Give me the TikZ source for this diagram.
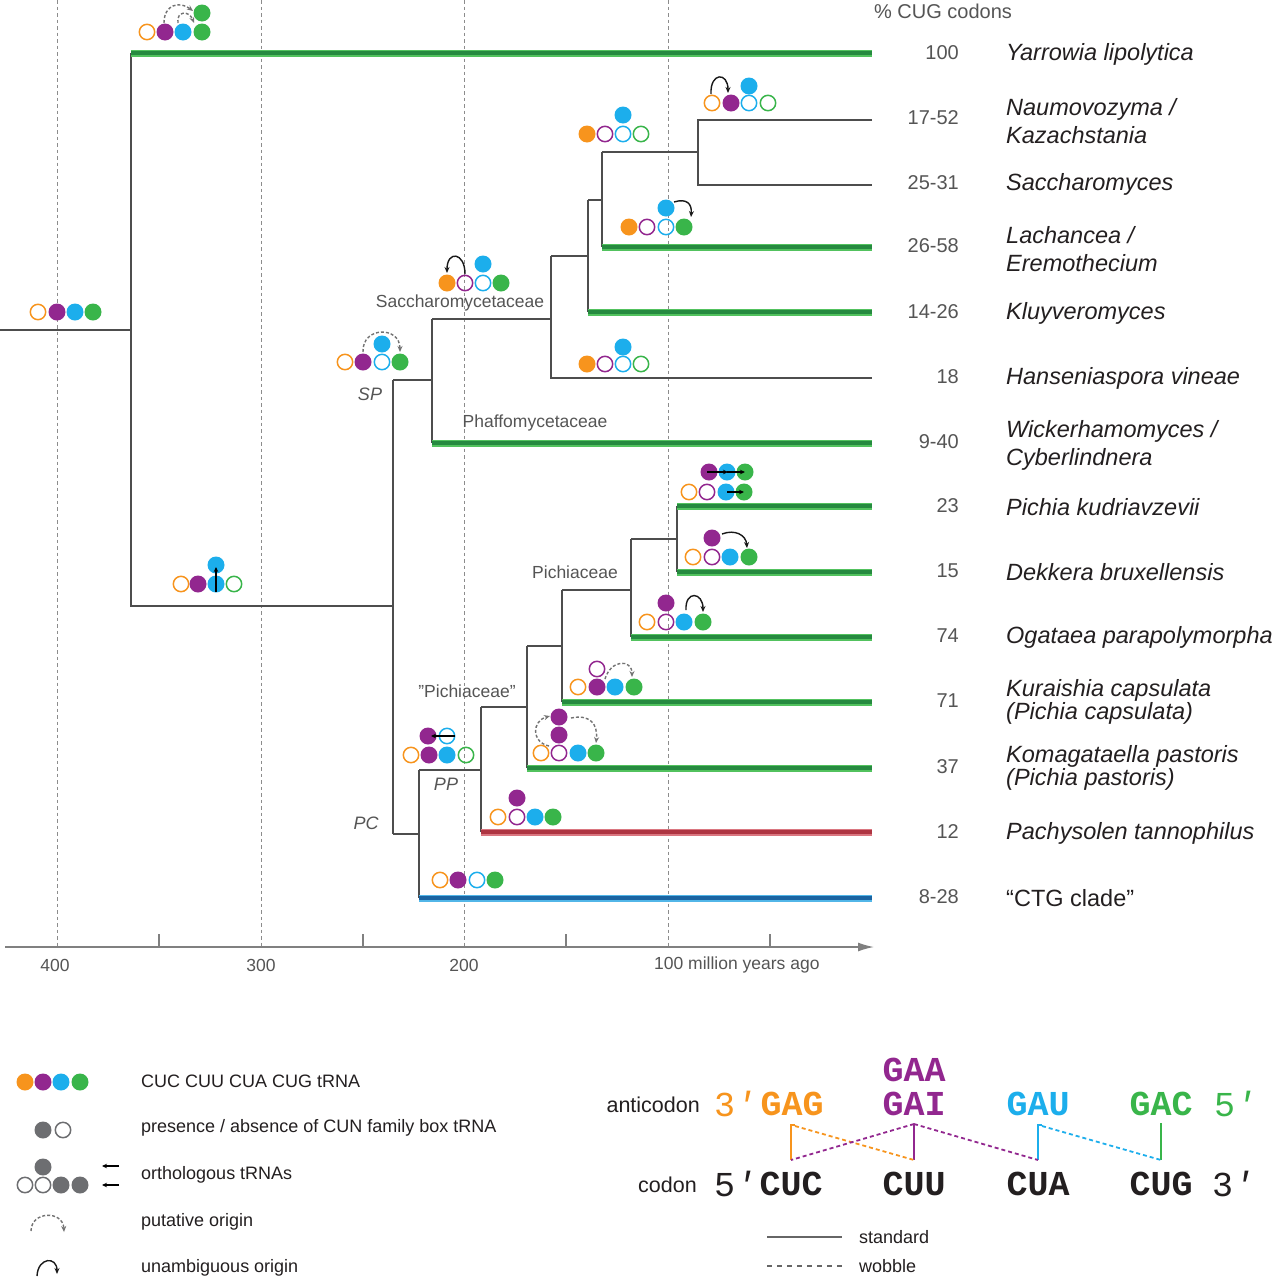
\documentclass[tikz,border=0pt]{standalone}
\usepackage{fontspec}
\setmainfont{Liberation Sans}
\newfontfamily\monofont{Liberation Mono}
\usetikzlibrary{arrows.meta}
\definecolor{cOr}{HTML}{F7941D}
\definecolor{cPu}{HTML}{92278F}
\definecolor{cBl}{HTML}{1CAEEC}
\definecolor{cGr}{HTML}{39B54A}
\definecolor{cGy}{HTML}{6D6E71}
\definecolor{treec}{HTML}{4D4D4D}
\definecolor{txtgray}{HTML}{555555}
\definecolor{spc}{HTML}{231F20}
\definecolor{grOut}{HTML}{52C25E}
\definecolor{grIn}{HTML}{268A40}
\definecolor{rdOut}{HTML}{DA7680}
\definecolor{rdIn}{HTML}{AE3542}
\definecolor{blOut}{HTML}{52B6E8}
\definecolor{blIn}{HTML}{1A64A2}
\newcommand\fc[3]{\fill[#3] (#1,#2) circle[radius=8.5pt];}
\newcommand\oc[3]{\draw[#3,line width=1.5pt] (#1,#2) circle[radius=7.7pt];}
\newcommand\brn[4]{\draw[line width=7pt,#1] (#3,#4) -- (872,#4);\draw[line width=3.4pt,#2] (#3,#4) -- (872,#4);}
\newcommand\primemark{{\itshape\symbol{"2032}}}
\tikzset{
  tree/.style={draw=treec, line width=1.3pt},
  gridln/.style={draw=black!45, line width=0.8pt, dash pattern=on 3.5pt off 3pt},
  put/.style={draw=black!55, line width=1.4pt, dash pattern=on 3pt off 2pt, -{Stealth[length=6pt,width=5pt]}},
  una/.style={draw=black!90, line width=1.4pt, -{Stealth[length=6pt,width=5pt]}},
  orth/.style={draw=black, line width=1.3pt, -{Stealth[length=5pt,width=4.5pt]}},
  species/.style={anchor=west, font=\fontsize{23.5}{28}\selectfont\itshape, text=spc, align=left, inner sep=0pt},
  species2/.style={species, font=\fontsize{23.5}{22.5}\selectfont\itshape},
  pct/.style={anchor=east, font=\fontsize{20}{24}\selectfont, text=txtgray, inner sep=0pt},
  clade/.style={font=\fontsize{17.5}{21}\selectfont, text=txtgray, inner sep=0pt},
  cladeit/.style={font=\fontsize{18}{21}\selectfont\itshape, text=txtgray, inner sep=0pt},
  axlab/.style={font=\fontsize{17.5}{21}\selectfont, text=txtgray, inner sep=0pt},
  legtxt/.style={anchor=west, font=\fontsize{18}{21}\selectfont, text=spc, inner sep=0pt},
  codon/.style={font=\fontsize{35}{37}\selectfont\monofont\bfseries, inner sep=0pt},
  prime/.style={anchor=west, font=\fontsize{35}{37}\selectfont\monofont, inner sep=0pt},
  sidelab/.style={font=\fontsize{21.5}{24}\selectfont, text=spc, anchor=east, inner sep=0pt},
  pair/.style={line width=1.8pt},
  wob/.style={line width=1.8pt, dash pattern=on 4pt off 3pt}
}
\begin{document}
\begin{tikzpicture}[x=1pt,y=-1pt]
\useasboundingbox[fill=white] (0,0) rectangle (1277,1280);
% grid lines
\foreach \x in {57,261,464,668} \draw[gridln] (\x,0) -- (\x,947);
% axis
\draw[draw=black!50, line width=1.5pt, -{Latex[length=16pt,width=9pt]}] (5,947) -- (874,947);
\foreach \x in {159,363,566,770} \draw[draw=black!50, line width=1.2pt] (\x,934) -- (\x,947);
\node[axlab] (a400) at (55,965) {400};
\node[axlab] (a300) at (261,965) {300};
\node[axlab] (a200) at (464,965) {200};
\node[axlab, anchor=west] (a100) at (654,965) {100 million years ago};
% tree
\draw[tree] (0,330) -- (131,330);
\draw[tree] (131,53) -- (131,606) -- (393,606);
\draw[tree] (393,380) -- (393,834);
\draw[tree] (393,380) -- (432,380);
\draw[tree] (432,319) -- (432,443);
\draw[tree] (432,319) -- (551,319);
\draw[tree] (551,256) -- (551,378) -- (872,378);
\draw[tree] (551,256) -- (588,256);
\draw[tree] (588,200) -- (588,312);
\draw[tree] (588,200) -- (602,200);
\draw[tree] (602,152) -- (602,247);
\draw[tree] (602,152) -- (698,152);
\draw[tree] (872,120) -- (698,120) -- (698,185) -- (872,185);
\draw[tree] (393,834) -- (419,834);
\draw[tree] (419,770) -- (419,898);
\draw[tree] (419,770) -- (481,770);
\draw[tree] (481,707) -- (481,832);
\draw[tree] (481,707) -- (527,707);
\draw[tree] (527,646) -- (527,768);
\draw[tree] (527,646) -- (562,646);
\draw[tree] (562,590) -- (562,702);
\draw[tree] (562,590) -- (631,590);
\draw[tree] (631,539) -- (631,637);
\draw[tree] (631,539) -- (677,539);
\draw[tree] (677,506) -- (677,572);
% coloured branches
\brn{grOut}{grIn}{131}{53}
\brn{grOut}{grIn}{602}{247}
\brn{grOut}{grIn}{588}{312}
\brn{grOut}{grIn}{432}{443}
\brn{grOut}{grIn}{677}{506}
\brn{grOut}{grIn}{677}{572}
\brn{grOut}{grIn}{631}{637}
\brn{grOut}{grIn}{562}{702}
\brn{grOut}{grIn}{527}{768}
\brn{rdOut}{rdIn}{481}{832}
\brn{blOut}{blIn}{419}{898}
% clade labels
\node[clade] (lsac) at (460,303) {Saccharomycetaceae};
\node[clade] (lpha) at (535,423) {Phaffomycetaceae};
\node[clade] (lpic) at (575,572) {Pichiaceae};
\node[clade] (lpic2) at (467,691) {"Pichiaceae”};
\node[cladeit] (lsp) at (370,394) {SP};
\node[cladeit] (lpp) at (446,784) {PP};
\node[cladeit] (lpc) at (366,823) {PC};
% header
\node[clade, font=\fontsize{20}{22}\selectfont] (hdr) at (943,11) {\% CUG codons};
% percentages
\node[pct] (p1) at (959,53) {100};
\node[pct] (p2) at (959,118) {17-52};
\node[pct] (p3) at (959,183) {25-31};
\node[pct] (p4) at (959,246) {26-58};
\node[pct] (p5) at (959,312) {14-26};
\node[pct] (p6) at (959,377) {18};
\node[pct] (p7) at (959,442) {9-40};
\node[pct] (p8) at (959,506) {23};
\node[pct] (p9) at (959,571) {15};
\node[pct] (p10) at (959,636) {74};
\node[pct] (p11) at (959,701) {71};
\node[pct] (p12) at (959,767) {37};
\node[pct] (p13) at (959,832) {12};
\node[pct] (p14) at (959,897) {8-28};
% species
\node[species] (s1) at (1006,54) {Yarrowia lipolytica};
\node[species] (s2) at (1006,121) {Naumovozyma /\\Kazachstania};
\node[species] (s3) at (1006,184) {Saccharomyces};
\node[species] (s4) at (1006,249) {Lachancea /\\Eremothecium};
\node[species] (s5) at (1006,313) {Kluyveromyces};
\node[species] (s6) at (1006,378) {Hanseniaspora vineae};
\node[species] (s7) at (1006,445) {Wickerhamomyces /\\Cyberlindnera};
\node[species] (s8) at (1006,507) {Pichia kudriavzevii};
\node[species] (s9) at (1006,572) {Dekkera bruxellensis};
\node[species] (s10) at (1006,637) {Ogataea parapolymorpha};
\node[species2] (s11) at (1006,702) {Kuraishia capsulata\\(Pichia capsulata)};
\node[species2] (s12) at (1006,768) {Komagataella pastoris\\(Pichia pastoris)};
\node[species] (s13) at (1006,833) {Pachysolen tannophilus};
\node[species, font=\fontsize{23.5}{28}\selectfont] (s14) at (1006,898) {“CTG clade”};
% ---------- icons ----------
% root
\oc{38}{312}{cOr}\fc{57}{312}{cPu}\fc{75}{312}{cBl}\fc{93}{312}{cGr}
% Yarrowia
\oc{147}{32}{cOr}\fc{165}{32}{cPu}\fc{183}{32}{cBl}\fc{202}{32}{cGr}\fc{202}{13}{cGr}
\draw[put] (164,23) .. controls (164,4) and (180,1) .. (193,11);
\draw[put] (178,23) .. controls (176,11) and (189,10) .. (194,23);
% Naumovozyma
\oc{712}{103}{cOr}\fc{731}{103}{cPu}\oc{749}{103}{cBl}\oc{768}{103}{cGr}\fc{749}{86}{cBl}
\draw[una] (711,94) .. controls (710,72) and (728,72) .. (728,93);
% Saccharomycetaceae ancestor (upper)
\fc{587}{134}{cOr}\oc{605}{134}{cPu}\oc{623}{134}{cBl}\oc{641}{134}{cGr}\fc{623}{115}{cBl}
% Lachancea
\fc{629}{227}{cOr}\oc{647}{227}{cPu}\oc{666}{227}{cBl}\fc{684}{227}{cGr}\fc{666}{208}{cBl}
\draw[una] (674,202) .. controls (687,198) and (692,204) .. (691,217);
% Saccharomycetaceae node
\fc{447}{283}{cOr}\oc{465}{283}{cPu}\oc{483}{283}{cBl}\fc{501}{283}{cGr}\fc{483}{264}{cBl}
\draw[una] (465,274) .. controls (465,252) and (447,250) .. (447,273);
% SP
\oc{345}{362}{cOr}\fc{363}{362}{cPu}\oc{382}{362}{cBl}\fc{400}{362}{cGr}\fc{382}{344}{cBl}
\draw[put] (363,352) .. controls (362,326) and (400,326) .. (400,352);
% Hanseniaspora
\fc{587}{364}{cOr}\oc{605}{364}{cPu}\oc{623}{364}{cBl}\oc{641}{364}{cGr}\fc{623}{347}{cBl}
% Pichia kudriavzevii
\fc{709}{472}{cPu}\fc{727}{472}{cBl}\fc{745}{472}{cGr}
\oc{689}{492}{cOr}\oc{707}{492}{cPu}\fc{726}{492}{cBl}\fc{744}{492}{cGr}
\draw[orth] (707,472) -- (728,472);
\draw[orth] (727,472) -- (745,472);
\draw[orth] (727,492) -- (744,492);
% Dekkera
\fc{712}{538}{cPu}
\oc{693}{557}{cOr}\oc{712}{557}{cPu}\fc{730}{557}{cBl}\fc{749}{557}{cGr}
\draw[una] (722,534) .. controls (735,529) and (746,535) .. (747,548);
% Ogataea
\fc{666}{603}{cPu}
\oc{647}{622}{cOr}\oc{666}{622}{cPu}\fc{684}{622}{cBl}\fc{703}{622}{cGr}
\draw[una] (686,610) .. controls (685,590) and (703,592) .. (703,612);
% Kuraishia
\oc{597}{669}{cPu}
\oc{578}{687}{cOr}\fc{597}{687}{cPu}\fc{615}{687}{cBl}\fc{634}{687}{cGr}
\draw[put] (605,679) .. controls (611,659) and (632,659) .. (632,677);
% Komagataella
\fc{559}{717}{cPu}\fc{559}{735}{cPu}
\oc{541}{753}{cOr}\oc{559}{753}{cPu}\fc{578}{753}{cBl}\fc{596}{753}{cGr}
\draw[put] (549,746) .. controls (531,742) and (532,721) .. (550,716);
\draw[put] (571,718) .. controls (590,714) and (598,724) .. (596,743);
% PP
\fc{428}{736}{cPu}\oc{447}{736}{cBl}
\oc{411}{755}{cOr}\fc{429}{755}{cPu}\fc{447}{755}{cBl}\oc{466}{755}{cGr}
\draw[orth] (455,736) -- (431,736);
% Pachysolen
\fc{517}{798}{cPu}
\oc{498}{817}{cOr}\oc{517}{817}{cPu}\fc{535}{817}{cBl}\fc{553}{817}{cGr}
% CTG clade
\oc{440}{880}{cOr}\fc{458}{880}{cPu}\oc{477}{880}{cBl}\fc{495}{880}{cGr}
% lower branch
\oc{181}{584}{cOr}\fc{198}{584}{cPu}\fc{216}{584}{cBl}\oc{234}{584}{cGr}\fc{216}{565}{cBl}
\draw[orth] (216,592) -- (216,567);
% ---------- legend left ----------
\fc{25}{1082}{cOr}\fc{43}{1082}{cPu}\fc{61}{1082}{cBl}\fc{80}{1082}{cGr}
\node[legtxt] (l1) at (141,1081) {CUC CUU CUA CUG tRNA};
\fc{43}{1130}{cGy}\oc{63}{1130}{cGy}
\node[legtxt] (l2) at (141,1128) {presence / absence of CUN family box tRNA};
\fc{43}{1167}{cGy}
\oc{25}{1185}{cGy}\oc{43}{1185}{cGy}\fc{61}{1185}{cGy}\fc{80}{1185}{cGy}
\draw[orth] (119,1166) -- (102,1166);
\draw[orth] (119,1185) -- (102,1185);
\node[legtxt] (l3) at (141,1175) {orthologous tRNAs};
\draw[put] (31,1231) .. controls (31,1211) and (63,1210) .. (64,1232);
\node[legtxt] (l4) at (141,1222) {putative origin};
\draw[una] (37,1276) .. controls (38,1257) and (57,1256) .. (57,1274);
\node[legtxt] (l5) at (141,1268) {unambiguous origin};
% ---------- legend right ----------
\node[sidelab] (anti) at (700,1105) {anticodon};
\node[sidelab] (cod) at (697,1185) {codon};
\node[prime, text=cOr] (p3a) at (714,1104) {3\primemark};
\node[codon, text=cOr] (GAG) at (792,1104) {GAG};
\node[codon, text=cPu] (GAA) at (914,1070) {GAA};
\node[codon, text=cPu] (GAI) at (914,1104) {GAI};
\node[codon, text=cBl] (GAU) at (1038,1104) {GAU};
\node[codon, text=cGr] (GAC) at (1161,1104) {GAC};
\node[prime, text=cGr] (p5a) at (1214,1104) {5\primemark};
\node[prime, text=spc] (p5c) at (714,1184) {5\primemark};
\node[codon, text=spc] (CUC) at (791,1184) {CUC};
\node[codon, text=spc] (CUU) at (914,1184) {CUU};
\node[codon, text=spc] (CUA) at (1038,1184) {CUA};
\node[codon, text=spc] (CUG) at (1161,1184) {CUG};
\node[prime, text=spc] (p3c) at (1212,1184) {3\primemark};
\coordinate (tO) at (791,1125); \coordinate (bO) at (791,1160);
\coordinate (tP) at (914,1124); \coordinate (bP) at (914,1160);
\coordinate (tB) at (1038,1125); \coordinate (bB) at (1038,1160);
\coordinate (tG) at (1161,1123); \coordinate (bG) at (1161,1160);
\draw[pair, cOr] (bO) -- (tO) -- ++(4,0);
\draw[pair, cPu] (bP) -- (tP);
\draw[pair, cBl] (bB) -- (tB) -- ++(4,0);
\draw[pair, cGr] (bG) -- (tG);
\draw[wob, cOr] (795,1126) -- (bP);
\draw[wob, cPu] (tP) -- (bO);
\draw[wob, cPu] (tP) -- (bB);
\draw[wob, cBl] (1042,1126) -- (bG);
\coordinate (st1) at (767,1237); \coordinate (st2) at (842,1237);
\coordinate (wb1) at (767,1266); \coordinate (wb2) at (842,1266);
\draw[line width=2pt, black!60] (st1) -- (st2);
\draw[line width=2pt, black!60, dash pattern=on 5pt off 5pt] (wb1) -- (wb2);
\node[legtxt] (lst) at (859,1237) {standard};
\node[legtxt] (lwb) at (859,1266) {wobble};
\end{tikzpicture}
\end{document}
